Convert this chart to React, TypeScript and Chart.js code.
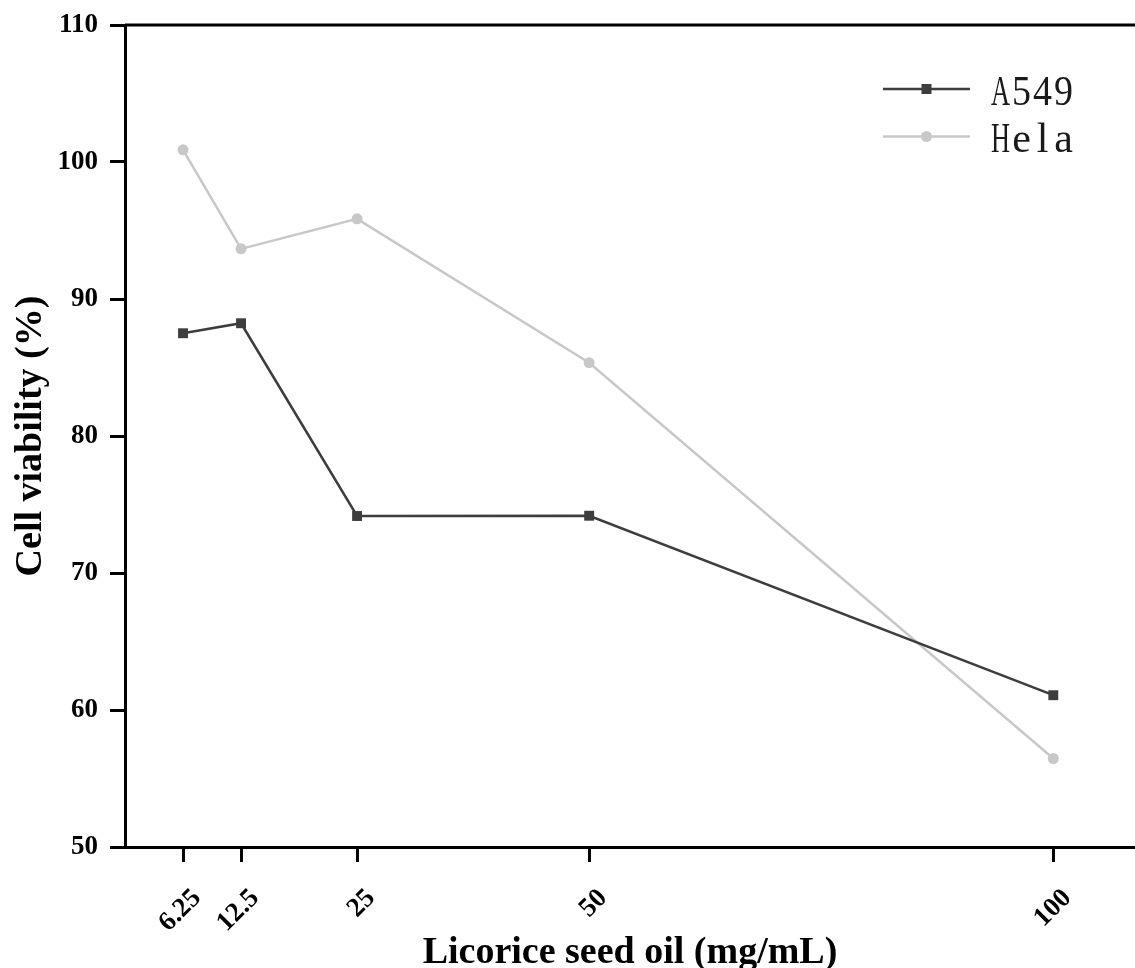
import React, { useEffect, useRef } from "react";
import { Chart, registerables } from "chart.js";

Chart.register(...registerables);

const doses = [6.25, 12.5, 25, 50, 100];
const doseLabels = ["6.25", "12.5", "25", "50", "100"];
const a549Values = [87.5, 88.23, 74.16, 74.18, 61.08];
const helaValues = [100.89, 93.66, 95.85, 85.35, 56.46];
const yTickValues = [50, 60, 70, 80, 90, 100, 110];
const seriesNames = ["A549", "Hela"];

const SERIF = '"Liberation Serif", "Times New Roman", serif';

export default function App() {
  const ref = useRef<HTMLCanvasElement>(null);

  useEffect(() => {
    const canvas = ref.current;
    if (!canvas) return;

    const topBorder = {
      id: "topBorder",
      afterDraw(chart: any) {
        const { ctx, chartArea } = chart;
        ctx.save();
        ctx.strokeStyle = "#000";
        ctx.lineWidth = 3;
        ctx.beginPath();
        ctx.moveTo(chartArea.left, chartArea.top);
        ctx.lineTo(chartArea.right, chartArea.top);
        ctx.stroke();
        ctx.restore();
      },
    };

    const xTickLabels = {
      id: "xTickLabels",
      afterDraw(chart: any) {
        const { ctx, scales } = chart;
        const xs = scales.x;
        ctx.save();
        ctx.fillStyle = "#000";
        ctx.font = `bold 27px ${SERIF}`;
        ctx.textAlign = "right";
        ctx.textBaseline = "middle";
        doses.forEach((d, i) => {
          const px = xs.getPixelForValue(d);
          ctx.save();
          ctx.translate(px + 14, 894);
          ctx.rotate(-Math.PI / 4);
          ctx.fillText(doseLabels[i], 0, 0);
          ctx.restore();
        });
        ctx.restore();
      },
    };

    const customLegend = {
      id: "customLegend",
      afterDraw(chart: any) {
        const ctx = chart.ctx;
        ctx.save();
        chart.data.datasets.forEach((ds: any, i: number) => {
          const y = 89 + i * 47.5;
          ctx.strokeStyle = ds.borderColor;
          ctx.lineWidth = ds.borderWidth;
          ctx.beginPath();
          ctx.moveTo(883, y);
          ctx.lineTo(970, y);
          ctx.stroke();
          ctx.fillStyle = ds.pointBackgroundColor;
          const cx = 926.5;
          if (ds.pointStyle === "rect") {
            ctx.fillRect(cx - 5, y - 5, 10, 10);
          } else {
            ctx.beginPath();
            ctx.arc(cx, y, 5.5, 0, Math.PI * 2);
            ctx.fill();
          }
          ctx.fillStyle = "#1a1a1a";
          ctx.font = `42px ${SERIF}`;
          ctx.textAlign = "center";
          ctx.textBaseline = "alphabetic";
          const label: string = ds.label;
          for (let k = 0; k < label.length; k++) {
            ctx.fillText(label[k], 990 + 10.5 + k * 21, y + 15.5, 19);
          }
        });
        ctx.restore();
      },
    };

    const tickFont = { family: SERIF, size: 27, weight: "bold" as const };

    const chart = new Chart(canvas, {
      type: "line",
      data: {
        datasets: [
          {
            label: seriesNames[0],
            data: doses.map((d, i) => ({ x: d, y: a549Values[i] })),
            borderColor: "#3d3d3d",
            backgroundColor: "#3d3d3d",
            pointBackgroundColor: "#3d3d3d",
            pointBorderColor: "#3d3d3d",
            pointStyle: "rect",
            pointRadius: 7,
            pointBorderWidth: 0,
            borderWidth: 2.5,
            tension: 0,
          },
          {
            label: seriesNames[1],
            data: doses.map((d, i) => ({ x: d, y: helaValues[i] })),
            borderColor: "#c8c8c8",
            backgroundColor: "#c8c8c8",
            pointBackgroundColor: "#c8c8c8",
            pointBorderColor: "#c8c8c8",
            pointStyle: "circle",
            pointRadius: 5.5,
            pointBorderWidth: 0,
            borderWidth: 2.5,
            tension: 0,
          },
        ],
      },
      options: {
        responsive: false,
        animation: false,
        devicePixelRatio: 1,
        layout: { autoPadding: false, padding: { top: 25, right: 0, bottom: 0, left: 0 } },
        plugins: {
          legend: { display: false },
          tooltip: { enabled: false },
        },
        scales: {
          x: {
            type: "linear",
            min: 0,
            max: 108.8,
            afterBuildTicks: (s: any) => {
              s.ticks = doses.map((v) => ({ value: v }));
            },
            afterFit: (s: any) => {
              s.height = 121;
              s.paddingLeft = 0;
              s.paddingRight = 0;
            },
            ticks: {
              autoSkip: false,
              minRotation: 45,
              maxRotation: 45,
              padding: 17,
              color: "rgba(0,0,0,0)",
              font: tickFont,
              callback: (v: any) => {
                const idx = doses.indexOf(Number(v));
                return idx >= 0 ? doseLabels[idx] : "";
              },
            },
            grid: {
              drawOnChartArea: false,
              drawTicks: true,
              tickLength: 15,
              tickWidth: 3,
              tickColor: "#000",
              lineWidth: 3,
            },
            border: { display: true, color: "#000", width: 3 },
            title: {
              display: true,
              text: "Licorice seed oil (mg/mL)",
              color: "#000",
              font: { family: SERIF, size: 38, weight: "bold", lineHeight: 0.8 },
              padding: { top: 0, bottom: 0 },
            },
          },
          y: {
            type: "linear",
            min: 50,
            max: 110,
            afterBuildTicks: (s: any) => {
              s.ticks = yTickValues.map((v) => ({ value: v }));
            },
            afterFit: (s: any) => {
              s.width = 125;
              s.paddingTop = 0;
              s.paddingBottom = 0;
            },
            ticks: {
              padding: 12,
              color: "#000",
              font: tickFont,
            },
            grid: {
              drawOnChartArea: false,
              drawTicks: true,
              tickLength: 15,
              tickWidth: 3,
              tickColor: "#000",
              lineWidth: 3,
            },
            border: { display: true, color: "#000", width: 3 },
            title: {
              display: true,
              text: "Cell viability (%)",
              color: "#000",
              font: { family: SERIF, size: 38, weight: "bold" },
              padding: { top: 8, bottom: 0 },
            },
          },
        },
      },
      plugins: [topBorder, xTickLabels, customLegend],
    } as any);

    return () => chart.destroy();
  }, []);

  return (
    <div style={{ position: "absolute", left: 0, top: 0, width: 1135, height: 968, background: "#fff" }}>
      <canvas ref={ref} width={1135} height={968} style={{ display: "block" }} />
    </div>
  );
}
